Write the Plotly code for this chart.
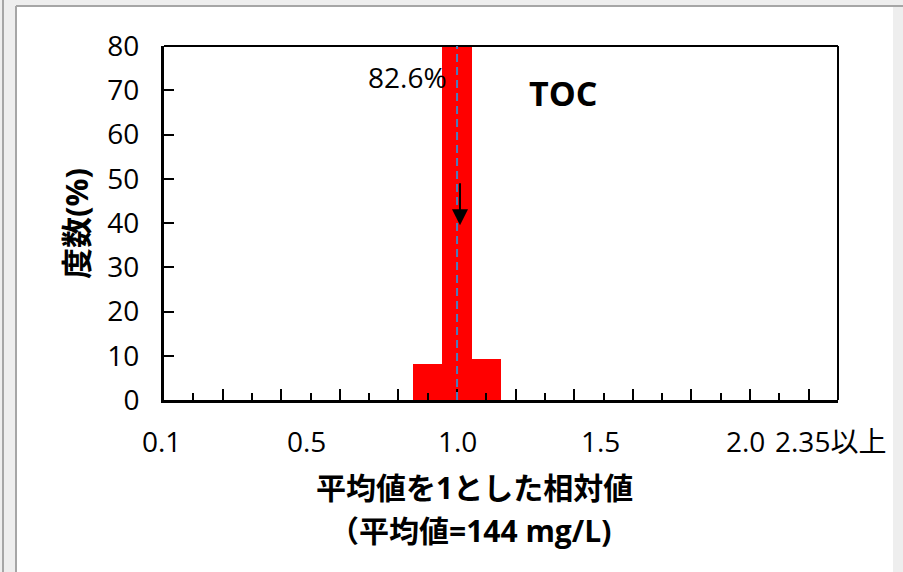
import plotly.graph_objects as go

# ---- data ----
bin_index = list(range(24))                      # class positions on the x axis
freq_pct = [0] * 9 + [8.2, 82.6, 9.2] + [0] * 12  # frequency (%) per class
tick_pos = [0, 5, 10, 15, 20, 23]
tick_text = ["0.1", "0.5", "1.0", "1.5", "2.0", "2.35以上"]
tick_xshift = [-3, -4, 0, -3, -5, -8]
mean_pos = 10          # relative value 1.0 (mean)
peak_label = "82.6%"
peak_label_y = 73
arrow_x = 10.1
arrow_from, arrow_to = 49.3, 39.5
y_ticks = list(range(0, 81, 10))

W, H = 903, 572
ML, MR, MT, MB = 164, 65, 46, 172
PW, PH = W - ML - MR, H - MT - MB


def X(px):
    return (px - ML) / PW


def Y(py):
    return (H - MB - py) / PH


FONT = "Open Sans, Noto Sans CJK JP, sans-serif"

fig = go.Figure()
fig.add_trace(go.Bar(x=bin_index, y=freq_pct, width=1.0,
                     marker=dict(color="#FF0000", line=dict(width=0)),
                     hoverinfo="skip"))

shapes = []
# outer textured frame (approximated with flat light gray)
for (x0, x1, y0, y1) in [(0, 16, 0, 572), (16, 903, 0, 6), (893, 903, 6, 572)]:
    shapes.append(dict(type="rect", xref="paper", yref="paper", layer="below",
                       x0=X(x0), x1=X(x1), y0=Y(y1), y1=Y(y0),
                       fillcolor="#eeeeee", line=dict(width=0)))
for (x0, y0, x1, y1) in [(3, 0, 3, 572), (16, 6, 16, 572), (16, 6, 903, 6)]:
    shapes.append(dict(type="line", xref="paper", yref="paper",
                       x0=X(x0), x1=X(x1), y0=Y(y0), y1=Y(y1),
                       line=dict(color="#a6a6a6", width=2)))
# plot frame top / right
shapes.append(dict(type="line", xref="paper", yref="paper", x0=0, x1=1, y0=1, y1=1,
                   line=dict(color="black", width=2)))
shapes.append(dict(type="line", xref="paper", yref="paper", x0=1, x1=1, y0=0, y1=1,
                   line=dict(color="black", width=2)))
# mean dashed line
shapes.append(dict(type="line", xref="x", yref="y", x0=mean_pos, x1=mean_pos,
                   y0=0, y1=80, line=dict(color="#4a7ebb", width=2, dash="8px,5px")))

C = dict(xanchor="center", yanchor="middle", showarrow=False)
ann = []
for p, t, s in zip(tick_pos, tick_text, tick_xshift):
    ann.append(dict(x=p, xref="x", y=0, yref="paper", yshift=-41, xshift=s,
                    text=t, font=dict(family=FONT, size=28, color="black"), **C))
ann.append(dict(x=mean_pos, xref="x", y=peak_label_y, yref="y", xshift=-50,
                text=peak_label, font=dict(family=FONT, size=28, color="black"), **C))
ann.append(dict(x=X(563), y=Y(93), xref="paper", yref="paper", text="<b>TOC</b>",
                font=dict(family=FONT, size=34, color="black"), **C))
ann.append(dict(x=arrow_x, y=arrow_to, xref="x", yref="y",
                ax=arrow_x, ay=arrow_from, axref="x", ayref="y",
                text="", showarrow=True, arrowhead=2, arrowsize=1.6,
                arrowwidth=2, arrowcolor="black", standoff=0, startstandoff=0))
ann.append(dict(x=X(76), y=Y(223), xref="paper", yref="paper",
                text="<b>度数(%)</b>", textangle=-90,
                font=dict(family=FONT, size=31, color="black"), **C))
ann.append(dict(x=X(474), y=Y(487), xref="paper", yref="paper",
                text="<b>平均値を1とした相対値</b>",
                font=dict(family=FONT, size=30, color="black"), **C))
ann.append(dict(x=X(470), y=Y(530), xref="paper", yref="paper",
                text="<b>（平均値=144 mg/L)</b>",
                font=dict(family=FONT, size=30, color="black"), **C))

fig.update_layout(
    width=W, height=H, autosize=False,
    margin=dict(l=ML, r=MR, t=MT, b=MB, pad=0),
    paper_bgcolor="white", plot_bgcolor="white",
    showlegend=False, bargap=0,
    shapes=shapes, annotations=ann,
    font=dict(family=FONT, color="black"),
    xaxis=dict(range=[0, 23], showline=True, linewidth=3, linecolor="black",
               ticks="inside", tickmode="linear", tick0=0, dtick=2,
               ticklen=11, tickwidth=2, tickcolor="black",
               minor=dict(ticks="inside", tickmode="linear", tick0=0, dtick=1,
                          ticklen=7, tickwidth=2, tickcolor="black"),
               showticklabels=False, showgrid=False, zeroline=False, fixedrange=True),
    yaxis=dict(range=[0, 80], tickvals=y_ticks, showline=True, linewidth=3,
               linecolor="black", ticks="inside", ticklen=10, tickwidth=2,
               tickcolor="black", tickfont=dict(family=FONT, size=28),
               ticklabelstandoff=16, showgrid=False, zeroline=False, fixedrange=True),
)

fig.write_html("out.html")
